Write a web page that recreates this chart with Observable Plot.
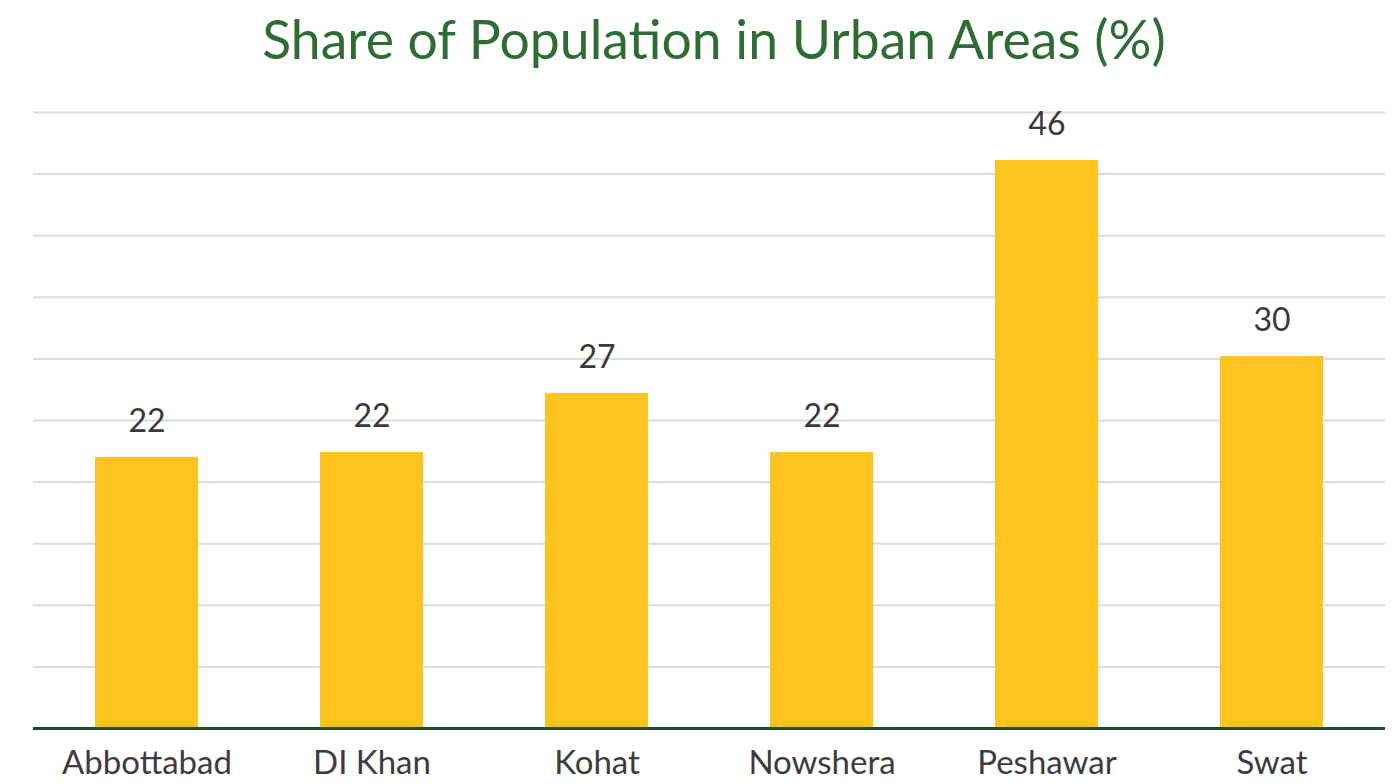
<!DOCTYPE html>
<html>
<head>
<meta charset="utf-8">
<script src="https://cdn.jsdelivr.net/npm/d3@7"></script>
<script src="https://cdn.jsdelivr.net/npm/@observablehq/plot@0.6"></script>
<style>
  html, body { margin: 0; padding: 0; background: #ffffff; }
  #wrap { position: relative; width: 1392px; height: 784px; overflow: hidden; }
  #title {
    position: absolute; left: 0; top: 0; width: 1392px; height: 92px;
    text-align: center; font-family: Lato, sans-serif; font-size: 53.5px; font-weight: 400;
    color: #2f6b35; line-height: 1; padding-left: 36px; box-sizing: border-box; padding-top: 12px;
    white-space: nowrap;
  }
  #chart { position: absolute; left: 0; top: 92px; }
</style>
</head>
<body>
<div id="wrap">
  <div id="title">Share of Population in Urban Areas (%)</div>
  <div id="chart"></div>
</div>
<script>
const districts = ["Abbottabad", "DI Khan", "Kohat", "Nowshera", "Peshawar", "Swat"];
const urbanShare = [22.0, 22.4, 27.2, 22.4, 46.1, 30.2];
const gridTicks = [5, 10, 15, 20, 25, 30, 35, 40, 45, 50];

const data = districts.map((d, i) => ({district: d, value: urbanShare[i]}));

const chart = Plot.plot({
  width: 1392,
  height: 692,
  marginLeft: 33,
  marginRight: 7,
  marginTop: 20,
  marginBottom: 56,
  style: {fontFamily: "Lato, sans-serif", background: "#ffffff"},
  x: {domain: districts, paddingInner: 0.54, paddingOuter: 0.27, label: null},
  y: {domain: [0, 50], label: null, axis: null},
  marks: [
    Plot.gridY(gridTicks, {stroke: "#dcdcdc", strokeOpacity: 1, strokeWidth: 2}),
    Plot.barY(data, {x: "district", y: "value", fill: "#FDC41F"}),
    Plot.ruleY([0], {stroke: "#1f4a2c", strokeWidth: 3}),
    Plot.text(data, {
      x: "district", y: "value",
      text: d => d3.format(".0f")(d.value),
      lineAnchor: "middle", dy: -36,
      fontSize: 32, fill: "#383838"
    }),
    Plot.axisX({tickSize: 0, tickPadding: 22, fontSize: 33, fill: "#3c3c3c", label: null})
  ]
});
document.getElementById("chart").appendChild(chart);
</script>
</body>
</html>
